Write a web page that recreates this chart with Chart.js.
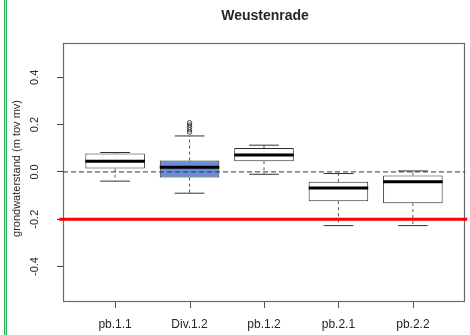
<!DOCTYPE html>
<html>
<head>
<meta charset="utf-8">
<script src="https://cdn.jsdelivr.net/npm/chart.js@4/dist/chart.umd.min.js"></script>
<style>
  html, body { margin: 0; padding: 0; background: #fff; }
  #wrap { position: relative; width: 470px; height: 335px; overflow: hidden; }
  #wrap canvas { position: absolute; left: 0; top: 0; }
  #edge { position: absolute; left: 4px; top: 0; width: 1px; height: 335px;
          border-left: 1px solid #2eb35c; border-right: 1px solid #2eb35c; background: #a6e3b8; }
</style>
</head>
<body>
<div id="wrap">
  <canvas id="c" width="470" height="335"></canvas>
  <div id="edge"></div>
</div>
<script>
// Groundwater levels per measuring point (m relative to ground level)
const categories   = ['pb.1.1', 'Div.1.2', 'pb.1.2', 'pb.2.1', 'pb.2.2'];
const lowerWhisker = [-0.039, -0.090, -0.010, -0.227, -0.227];
const q1           = [ 0.014, -0.024,  0.045, -0.124, -0.132];
const median       = [ 0.045,  0.020,  0.071, -0.068, -0.042];
const q3           = [ 0.078,  0.048,  0.101, -0.042, -0.015];
const upperWhisker = [ 0.082,  0.152,  0.113, -0.007,  0.004];
const outliersDiv12 = [0.168, 0.178, 0.188, 0.198, 0.208];
const yTicks = [-0.4, -0.2, 0.0, 0.2, 0.4];
const referenceLevel = 0.0;
const thresholdLevel = -0.2;

const boxFill = ['#ffffff', '#6a8fd8', '#ffffff', '#ffffff', '#ffffff'];
const FONT = "'Liberation Sans', Arial, sans-serif";
const TEXT = '#262626';

const pos = categories.map((c, i) => i + 1);

const boxes = pos.map((x, i) => ({ x, y: [q1[i], q3[i]] }));
const whiskers = pos.flatMap((x, i) => [
  { x, y: q3[i] }, { x, y: upperWhisker[i] }, { x, y: null },
  { x, y: q1[i] }, { x, y: lowerWhisker[i] }, { x, y: null }
]);
const caps = pos.flatMap((x, i) => [
  { x: x - 0.2, y: upperWhisker[i] }, { x: x + 0.2, y: upperWhisker[i] }, { x, y: null },
  { x: x - 0.2, y: lowerWhisker[i] }, { x: x + 0.2, y: lowerWhisker[i] }, { x, y: null }
]);
const medians = pos.flatMap((x, i) => [
  { x: x - 0.4, y: median[i] }, { x: x + 0.4, y: median[i] }, { x, y: null }
]);
const outlierPoints = outliersDiv12.map(v => ({ x: 2, y: v }));

// plot frame plus the category tick marks under the x axis
const framePlugin = {
  id: 'frame',
  beforeDatasetsDraw(chart) {
    const { ctx, chartArea: a } = chart;
    const xs = chart.scales.x;
    ctx.save();
    ctx.strokeStyle = '#6a6a6a';
    ctx.lineWidth = 1.2;
    ctx.strokeRect(a.left + 0.5, a.top + 0.5, a.right - a.left - 1, a.bottom - a.top - 1);
    ctx.strokeStyle = '#555';
    ctx.lineWidth = 1;
    ctx.beginPath();
    xs.ticks.forEach(t => {
      const px = Math.round(xs.getPixelForValue(t.value)) + 0.5;
      ctx.moveTo(px, a.bottom);
      ctx.lineTo(px, a.bottom + 6);
    });
    ctx.stroke();
    ctx.restore();
  }
};

const textPlugin = {
  id: 'texts',
  afterDraw(chart) {
    const { ctx, chartArea: a } = chart;
    const ys = chart.scales.y;
    ctx.save();
    ctx.fillStyle = TEXT;
    // title
    ctx.font = 'bold 14px ' + FONT;
    ctx.textAlign = 'center';
    ctx.textBaseline = 'alphabetic';
    ctx.fillText('Weustenrade', (a.left + a.right) / 2 + 1, 20);
    // y tick labels, rotated
    ctx.font = '11px ' + FONT;
    ys.ticks.forEach(t => {
      const py = ys.getPixelForValue(t.value);
      ctx.save();
      ctx.translate(37.5, py);
      ctx.rotate(-Math.PI / 2);
      ctx.fillText(t.value.toFixed(1), 0, 0);
      ctx.restore();
    });
    // y axis title
    ctx.save();
    ctx.translate(20, (a.top + a.bottom) / 2 - 4);
    ctx.rotate(-Math.PI / 2);
    ctx.fillText('grondwaterstand (m tov mv)', 0, 0);
    ctx.restore();
    ctx.restore();
  }
};

new Chart(document.getElementById('c'), {
  type: 'bar',
  data: {
    datasets: [
      {
        type: 'line', data: [{ x: 0.25, y: thresholdLevel }, { x: 5.73, y: thresholdLevel }],
        borderColor: '#ff0000', borderWidth: 3, pointRadius: 0, clip: false, order: 1
      },
      {
        type: 'line', data: [{ x: 0.3, y: referenceLevel }, { x: 5.7, y: referenceLevel }],
        borderColor: '#333333', borderWidth: 1, borderDash: [5, 3], pointRadius: 0, order: 2
      },
      {
        type: 'line', data: outlierPoints, showLine: false,
        pointStyle: 'circle', pointRadius: 2.2, pointBorderWidth: 1,
        pointBorderColor: '#444', pointBackgroundColor: 'rgba(255,255,255,0)', order: 3
      },
      {
        type: 'line', data: medians, spanGaps: false,
        borderColor: '#000000', borderWidth: 3, pointRadius: 0, order: 4
      },
      {
        type: 'line', data: caps, spanGaps: false,
        borderColor: '#333333', borderWidth: 1, pointRadius: 0, order: 5
      },
      {
        type: 'line', data: whiskers, spanGaps: false,
        borderColor: '#555555', borderWidth: 1, borderDash: [3, 3], pointRadius: 0, order: 6
      },
      {
        type: 'bar', data: boxes,
        backgroundColor: boxFill, borderColor: '#2a2a2a', borderWidth: 1, borderSkipped: false,
        barPercentage: 0.8, categoryPercentage: 1.0, order: 10
      }
    ]
  },
  options: {
    responsive: false,
    animation: false,
    layout: { padding: { top: 43, right: 2, bottom: 0, left: 0 } },
    plugins: { legend: { display: false }, tooltip: { enabled: false }, title: { display: false } },
    scales: {
      x: {
        type: 'linear', min: 0.3, max: 5.7, offset: false,
        afterBuildTicks: s => { s.ticks = pos.map(v => ({ value: v })); },
        afterFit: s => { s.height = 33; },
        ticks: {
          callback: v => categories[v - 1],
          font: { family: FONT, size: 12 }, color: TEXT, padding: 15, maxRotation: 0, autoSkip: false
        },
        grid: { display: false, drawTicks: false },
        border: { display: false }
      },
      y: {
        type: 'linear', min: -0.55, max: 0.545,
        afterBuildTicks: s => { s.ticks = yTicks.map(v => ({ value: v })); },
        afterFit: s => { s.width = 63; },
        ticks: { display: false },
        grid: { drawOnChartArea: false, drawTicks: true, tickLength: 6, tickColor: '#444', tickWidth: 1 },
        border: { display: false }
      }
    }
  },
  plugins: [framePlugin, textPlugin]
});
</script>
</body>
</html>
